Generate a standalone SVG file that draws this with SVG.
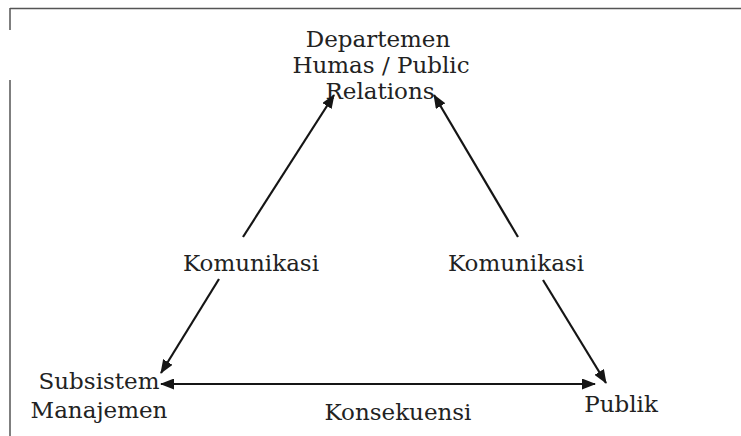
<svg xmlns="http://www.w3.org/2000/svg" width="741" height="436" viewBox="0 0 741 436">
<style>
.t{font-family:"DejaVu Serif","Liberation Serif",serif;font-size:23px;fill:#222;text-anchor:middle}
.c{stroke:#151515;stroke-width:2.2;fill:none}
.b{stroke:#555;stroke-width:1.5;fill:none}
</style>
<defs>
<marker id="ah" viewBox="0 0 14 11" refX="13" refY="5.5" markerWidth="14" markerHeight="11" markerUnits="userSpaceOnUse" orient="auto-start-reverse">
<path d="M0,0 L14,5.5 L0,11 Z" fill="#151515"/>
</marker>
</defs>
<rect width="741" height="436" fill="#fff"/>
<g id="frame">
<path class="b" d="M10,8.5 H741"/>
<path class="b" d="M10,8 V30"/>
<path class="b" d="M10,80 V436"/>
</g>
<g id="node-humas">
<text class="t" x="378" y="47">Departemen</text>
<text class="t" x="381" y="73">Humas / Public</text>
<text class="t" x="380" y="99">Relations</text>
</g>
<g id="node-subsistem">
<text class="t" x="99" y="389">Subsistem</text>
<text class="t" x="99" y="418">Manajemen</text>
</g>
<g id="node-publik">
<text class="t" x="621" y="412">Publik</text>
</g>
<g id="connectors">
<line class="c" x1="243" y1="237" x2="334" y2="95" marker-end="url(#ah)"/>
<line class="c" x1="219" y1="279" x2="161" y2="373" marker-end="url(#ah)"/>
<line class="c" x1="518" y1="237" x2="434" y2="95" marker-end="url(#ah)"/>
<line class="c" x1="543" y1="280" x2="606" y2="383" marker-end="url(#ah)"/>
<line class="c" x1="161" y1="384" x2="595" y2="384" marker-start="url(#ah)" marker-end="url(#ah)"/>
</g>
<g id="labels">
<text class="t" x="251" y="271">Komunikasi</text>
<text class="t" x="516" y="271">Komunikasi</text>
<text class="t" x="398" y="420">Konsekuensi</text>
</g>
</svg>
